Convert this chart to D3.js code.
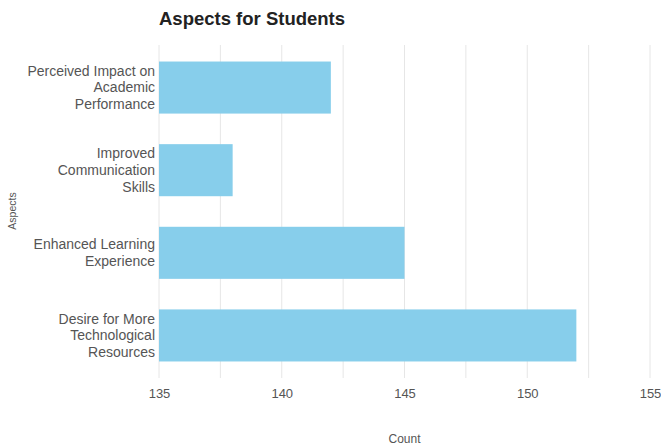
<!DOCTYPE html>
<html><head><meta charset="utf-8">
<script src="https://cdn.jsdelivr.net/npm/d3@7"></script>
<style>body{margin:0;background:#fff;}svg{display:block;font-family:"Liberation Sans",Arial,sans-serif;}</style>
</head><body><svg width="661" height="446"></svg>
<script>
const categories = ["Perceived Impact on Academic Performance","Improved Communication Skills","Enhanced Learning Experience","Desire for More Technological Resources"];
const labelLines = [["Perceived Impact on","Academic","Performance"],["Improved","Communication","Skills"],["Enhanced Learning","Experience"],["Desire for More","Technological","Resources"]];
const counts = [142, 138, 145, 152];
const tickValues = [135, 140, 145, 150, 155];
const gridValues = [135, 137.5, 140, 142.5, 145, 147.5, 150, 152.5, 155];

(function () {
const svg = d3.select("svg");
const mLeft = 159, mRight = 650, mTop = 45, mBottom = 378;
const x = d3.scaleLinear().domain([135, 155]).range([mLeft, mRight]);
const y = d3.scaleBand().domain(categories).range([mTop, mBottom]).paddingInner(0.37).paddingOuter(0.2);

svg.append("g").selectAll("line").data(gridValues).join("line")
  .attr("x1", d => x(d)).attr("x2", d => x(d)).attr("y1", mTop).attr("y2", mBottom)
  .attr("stroke", "#e6e6e6").attr("stroke-width", 1);

svg.append("g").selectAll("rect").data(counts).join("rect")
  .attr("x", x(135)).attr("y", (d,i) => y(categories[i]))
  .attr("width", d => x(d) - x(135)).attr("height", y.bandwidth())
  .attr("fill", "#87CEEB");

const xAxis = d3.axisBottom(x).tickValues(tickValues).tickSize(0).tickPadding(0).tickFormat(d3.format("d"));
const gx = svg.append("g").attr("transform", `translate(0,${mBottom})`).call(xAxis);
gx.select(".domain").remove();
gx.selectAll("text").attr("dy", null).attr("y", 20).attr("font-size", 13).attr("fill", "#555").attr("font-family", "Liberation Sans, Arial, sans-serif");

const yl = svg.append("g");
categories.forEach((c, i) => {
  const lines = labelLines[i];
  const cy = y(c) + y.bandwidth() / 2;
  const lh = 16.8;
  const t = yl.append("text").attr("text-anchor", "end").attr("font-size", 14).attr("fill", "#555");
  lines.forEach((ln, j) => {
    t.append("tspan").attr("x", 155).attr("y", cy + (j - (lines.length - 1) / 2) * lh).attr("dy", "0.35em").text(ln);
  });
});

svg.append("text").attr("x", 159).attr("y", 25).attr("font-size", 18.5).attr("font-weight", "bold").attr("fill", "#222").text("Aspects for Students");
svg.append("text").attr("x", (mLeft + mRight) / 2).attr("y", 443).attr("text-anchor", "middle").attr("font-size", 12).attr("fill", "#555").text("Count");
svg.append("text").attr("transform", "translate(16,211) rotate(-90)").attr("text-anchor", "middle").attr("font-size", 10.5).attr("fill", "#555").text("Aspects");
})();
</script></body></html>
